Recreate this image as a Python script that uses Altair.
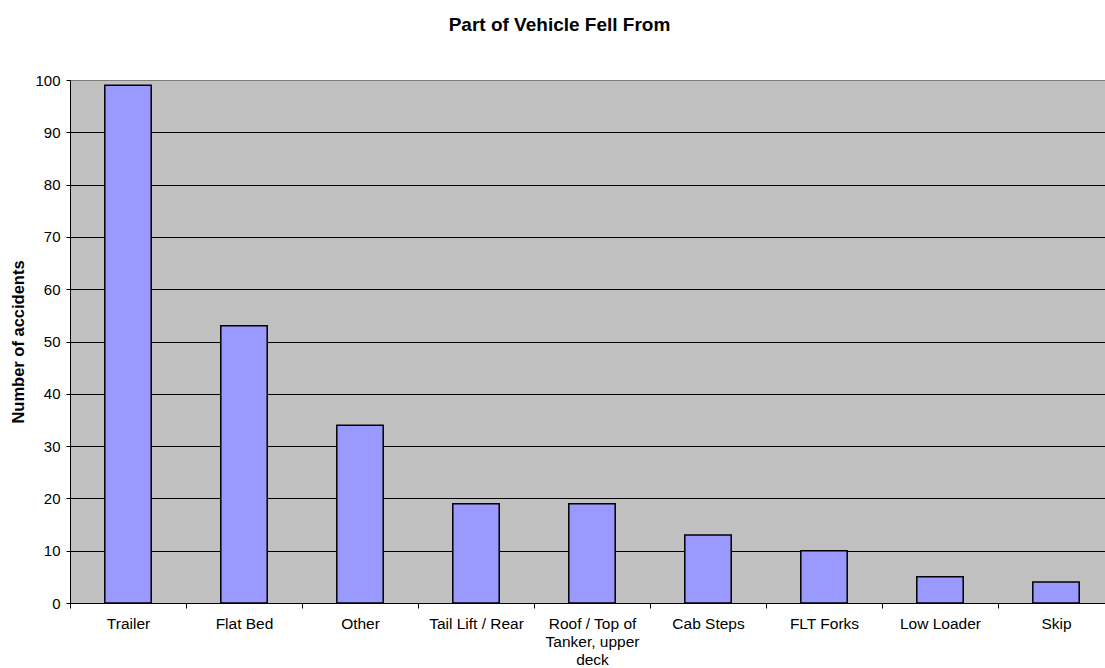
import altair as alt
import pandas as pd

# Accidents by the part of the vehicle the person fell from
parts = [
    "Trailer",
    "Flat Bed",
    "Other",
    "Tail Lift / Rear",
    "Roof / Top of Tanker, upper deck",
    "Cab Steps",
    "FLT Forks",
    "Low Loader",
    "Skip",
]
accidents = [99, 53, 34, 19, 19, 13, 10, 5, 4]
y_ticks = [0, 10, 20, 30, 40, 50, 60, 70, 80, 90, 100]

# Long category names broken over several lines on the axis
wrapped = {"Roof / Top of Tanker, upper deck": ["Roof / Top of", "Tanker, upper", "deck"]}

df = pd.DataFrame({"part": parts, "accidents": accidents})

label_expr = " : ".join(
    [f"datum.value == '{k}' ? {v!r}" for k, v in wrapped.items()] + ["datum.value"]
)

FONT = "Liberation Sans"

# The category band runs slightly past the right edge of the page,
# so the last band is cut off by the frame.
band_range = [0, 1044]

bars = (
    alt.Chart(df)
    .mark_bar(
        width=alt.RelativeBandSize(0.4),
        color="#9999FF",
        stroke="black",
        strokeWidth=1.5,
    )
    .encode(
        x=alt.X(
            "part:N",
            sort=parts,
            title=None,
            scale=alt.Scale(paddingInner=0, paddingOuter=0, range=band_range),
            axis=alt.Axis(
                tickBand="extent",
                labelAngle=0,
                labelExpr=label_expr,
                labelFont=FONT,
                labelFontSize=15.5,
                labelColor="black",
                labelPadding=8,
                labelLineHeight=18,
                labelLimit=0,
                domainColor="black",
                domainWidth=1,
                tickColor="black",
                tickSize=5,
                grid=False,
            ),
        ),
        y=alt.Y(
            "accidents:Q",
            title="Number of accidents",
            scale=alt.Scale(domain=[0, 100], nice=False),
            axis=alt.Axis(
                values=y_ticks,
                grid=True,
                gridColor={
                    "condition": {"test": "datum.value == 100", "value": "#808080"},
                    "value": "black",
                },
                gridWidth=1,
                labelFont=FONT,
                labelFontSize=15,
                labelColor="black",
                labelPadding=6,
                domainColor="black",
                tickColor="black",
                tickSize=4,
                titleFont=FONT,
                titleFontSize=16.5,
                titleFontWeight="bold",
                titleColor="black",
                titleX=-52,
                titleY=261.5,
                titleAngle=270,
                titleAlign="center",
                titleBaseline="middle",
            ),
        ),
    )
)

chart = (
    bars.properties(
        width=1035,
        height=523,
        title=alt.TitleParams(
            "Part of Vehicle Fell From",
            font=FONT,
            fontSize=19,
            fontWeight="bold",
            color="black",
            anchor="middle",
            frame="group",
            dx=-28,
            offset=38,
        ),
        autosize=alt.AutoSizeParams(type="none"),
        padding={"left": 70, "top": 80, "right": 0, "bottom": 65},
        background="white",
    )
    .configure_view(fill="#C0C0C0", stroke="#808080", strokeWidth=1)
)

chart.save("out.html", embed_options={"renderer": "svg", "actions": False})
